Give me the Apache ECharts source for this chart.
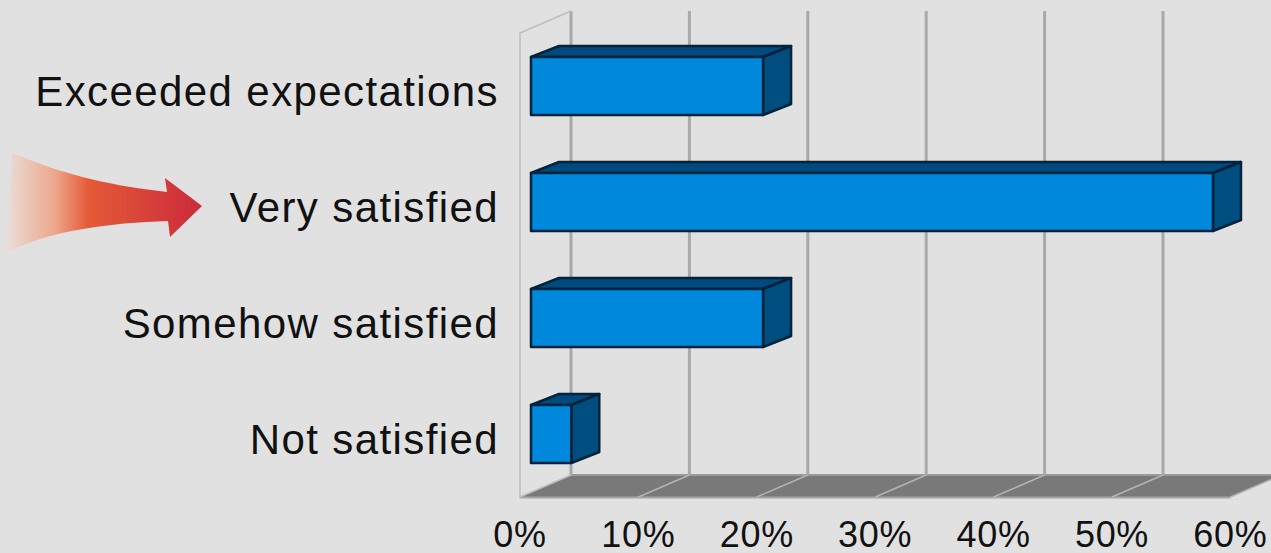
<!DOCTYPE html>
<html>
<head>
<meta charset="utf-8">
<style>
  html, body { margin: 0; padding: 0; background: #e1e1e1; }
  #main { width: 1271px; height: 553px; }
  /* labels are spaced out in the original */
  #main svg text[style*="42px"] { letter-spacing: 1.4px; }
  #main svg text[style*="36px"] { letter-spacing: 0.7px; }
</style>
</head>
<body>
<div id="main"></div>
<script src="https://cdn.jsdelivr.net/npm/echarts@6/dist/echarts.min.js"></script>
<script>
var categories = ['Exceeded expectations', 'Very satisfied', 'Somehow satisfied', 'Not satisfied'];
var satisfaction = [19.6, 57.6, 19.6, 3.4];
var xTicks = [0, 10, 20, 30, 40, 50, 60];

// fake 3d: offsets in pixels from the front plane of the plot
var wallDx = 51, wallDy = -22;
var barDx = 11, barDy = -5;
var sideDx = 28, sideDy = -11;

var myChart = echarts.init(document.getElementById('main'), null, { renderer: 'svg' });

// floor, left wall and back gridlines
function renderBackdrop(params, api) {
    var tick = api.value(0);
    var bottom = api.coord([tick, 3]);
    var band = api.size([0, 1])[1];
    var x = bottom[0], yb = bottom[1] + band / 2, yt = yb - band * 4;
    var children = [];

    if (tick < 60) {
        var step = api.size([10, 0])[0];
        children.push({
            type: 'polygon',
            shape: { points: [[x, yb], [x + step, yb], [x + step + wallDx, yb + wallDy], [x + wallDx, yb + wallDy]] },
            style: { fill: '#797979' }
        });
        children.push({
            type: 'line',
            shape: { x1: x, y1: yb + 0.5, x2: x + step, y2: yb + 0.5 },
            style: { stroke: '#a6a6a6', lineWidth: 2 }
        });
        children.push({
            type: 'line',
            shape: { x1: x + wallDx, y1: yb + wallDy, x2: x + wallDx + step, y2: yb + wallDy },
            style: { stroke: '#9a9a9a', lineWidth: 2 }
        });
    }
    if (tick > 0) {
        children.push({
            type: 'line',
            shape: { x1: x, y1: yb, x2: x + wallDx, y2: yb + wallDy },
            style: { stroke: '#b4b4b4', lineWidth: 1.5 }
        });
    }
    children.push({
        type: 'line',
        shape: { x1: x + wallDx, y1: yb + wallDy, x2: x + wallDx, y2: yt + wallDy },
        style: { stroke: '#a9a9a9', lineWidth: 3 }
    });
    if (tick === 0) {
        children.push({
            type: 'polyline',
            shape: { points: [[x + wallDx, yb + wallDy], [x, yb], [x, yt], [x + wallDx, yt + wallDy]] },
            style: { stroke: '#bdbdbd', lineWidth: 1.5, fill: null }
        });
    }
    return { type: 'group', children: children };
}

function renderBar(params, api) {
    var start = api.coord([0, api.value(1)]);
    var end = api.coord([api.value(0), api.value(1)]);
    var h = api.size([0, 1])[1] * 0.5;
    var x0 = start[0] + barDx, x1 = end[0] + barDx;
    var yt = start[1] + barDy - h / 2, yb = yt + h;
    var edge = { stroke: '#02233b', lineWidth: 2.5, lineJoin: 'round' };
    return {
        type: 'group',
        children: [
            {
                type: 'polygon',
                shape: { points: [[x0, yt], [x1, yt], [x1 + sideDx, yt + sideDy], [x0 + sideDx, yt + sideDy]] },
                style: Object.assign({ fill: '#004a7f' }, edge)
            },
            {
                type: 'polygon',
                shape: { points: [[x1, yt], [x1 + sideDx, yt + sideDy], [x1 + sideDx, yb + sideDy], [x1, yb]] },
                style: Object.assign({ fill: '#004e80' }, edge)
            },
            {
                type: 'rect',
                shape: { x: x0, y: yt, width: x1 - x0, height: h },
                style: Object.assign({ fill: '#0088dd' }, edge)
            }
        ]
    };
}

// the red arrow pointing at "Very satisfied"
function renderArrow() {
    return {
        type: 'path',
        shape: {
            pathData: 'M12 153 C70 177 115 186 167 192 L165 178 L202 206 L170 237 L168 221 C110 223 50 230 6 253 Z',
            x: 6, y: 153, width: 196, height: 100,
            layout: 'cover'
        },
        style: {
            fill: {
                type: 'linear', x: 0, y: 0, x2: 1, y2: 0,
                colorStops: [
                    { offset: 0, color: '#e9ded9' },
                    { offset: 0.25, color: '#eda78c' },
                    { offset: 0.42, color: '#e55a37' },
                    { offset: 1, color: '#cb2a3c' }
                ]
            }
        }
    };
}

myChart.setOption({
    backgroundColor: '#e1e1e1',
    animation: false,
    grid: { left: 520, top: 33, width: 710.4, height: 464, outerBoundsMode: 'none' },
    xAxis: {
        type: 'value',
        min: 0,
        max: 60,
        interval: 10,
        axisLine: { show: false },
        axisTick: { show: false },
        splitLine: { show: false },
        axisLabel: {
            formatter: '{value}%',
            fontFamily: 'Liberation Sans',
            fontSize: 36,
            color: '#111',
            margin: 19,
            showMaxLabel: true,
            hideOverlap: false
        }
    },
    yAxis: {
        type: 'category',
        inverse: true,
        data: categories,
        axisLine: { show: false },
        axisTick: { show: false },
        splitLine: { show: false },
        axisLabel: {
            fontFamily: 'Liberation Sans',
            fontSize: 42,
            color: '#111',
            margin: 21
        }
    },
    series: [
        {
            type: 'custom',
            silent: true,
            z: 1,
            clip: false,
            coordinateSystem: 'cartesian2d',
            encode: { x: 0 },
            data: xTicks.map(function (t) { return [t]; }),
            renderItem: renderBackdrop
        },
        {
            type: 'custom',
            silent: true,
            z: 2,
            clip: false,
            coordinateSystem: 'cartesian2d',
            encode: { x: 0, y: 1 },
            data: satisfaction.map(function (v, i) { return [v, i]; }),
            renderItem: renderBar
        },
        {
            type: 'custom',
            silent: true,
            z: 3,
            coordinateSystem: 'none',
            data: [0],
            renderItem: renderArrow
        }
    ]
});
</script>
</body>
</html>
